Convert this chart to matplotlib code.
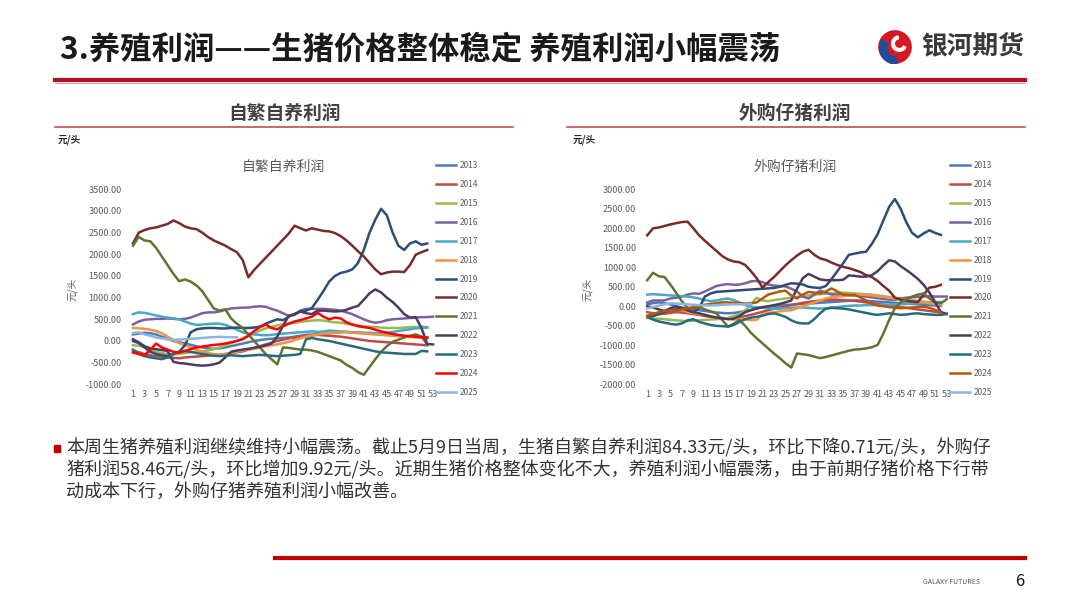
import matplotlib
matplotlib.use('Agg')
import matplotlib.pyplot as plt
from matplotlib.lines import Line2D
from matplotlib.patches import Rectangle, Circle, Wedge
from matplotlib.ticker import FormatStrFormatter

plt.rcParams['font.family'] = ['Noto Sans CJK SC', 'DejaVu Sans']

years = ['2013', '2014', '2015', '2016', '2017', '2018', '2019',
         '2020', '2021', '2022', '2023', '2024', '2025']

# 自繁自养利润 (元/头), by week
self_2013 = [150, 170, 190, 180, 150, 100, 50, 0, -30, -60, -90, -120, -150, -170, -180, -170, -150, -120, -90, -60,
             -30, 0, 20, 40, 50, 60, 70, 80, 100, 120, 140, 150, 160, 170, 180, 190, 200, 210, 200, 190,
             180, 170, 160, 150, 140, 130, 120, 110, 100, 90, 80, 70]
self_2014 = [-220, -260, -300, -330, -350, -360, -380, -390, -400, -380, -370, -360, -350, -340, -330, -320, -300, -280, -260, -240,
             -200, -160, -120, -80, -40, 0, 30, 60, 80, 100, 120, 130, 140, 130, 120, 110, 100, 80, 60, 40,
             20, 0, -10, -20, -30, -40, -50, -60, -70, -80, -90, -100]
self_2015 = [-100, -110, -150, -200, -250, -280, -300, -310, -300, -280, -260, -250, -240, -220, -190, -150, -100, -50, 0, 60,
             120, 180, 240, 290, 320, 360, 380, 400, 420, 440, 460, 470, 480, 470, 450, 430, 420, 400, 380, 360,
             340, 330, 320, 310, 300, 300, 300, 310, 320, 320, 330, 320]
self_2016 = [380, 450, 490, 500, 510, 510, 520, 510, 500, 510, 540, 590, 640, 660, 660, 680, 720, 750, 760, 770,
             770, 790, 800, 790, 740, 700, 640, 580, 600, 700, 740, 740, 740, 740, 730, 720, 700, 660, 620, 560,
             500, 450, 420, 440, 480, 500, 510, 520, 530, 540, 550, 550, 560]
self_2017 = [620, 660, 650, 620, 590, 560, 540, 520, 500, 450, 400, 370, 380, 390, 400, 400, 370, 320, 260, 200,
             170, 150, 140, 130, 140, 160, 170, 180, 190, 200, 210, 220, 210, 220, 240, 230, 220, 210, 200, 200,
             190, 190, 180, 180, 190, 210, 230, 250, 270, 290, 300, 310]
self_2018 = [300, 290, 280, 260, 230, 180, 100, 20, -50, -100, -150, -200, -250, -280, -300, -320, -300, -280, -250, -220,
             -200, -180, -150, -120, -100, -80, -50, -20, 20, 60, 100, 130, 150, 170, 180, 190, 200, 200, 190, 180,
             170, 160, 150, 140, 130, 120, 110, 100, 90, 80, 70, 60]
self_2019 = [0, -50, -150, -250, -300, -330, -350, -300, -250, -100, 200, 270, 290, 300, 300, 290, 290, 300, 310, 300,
             300, 310, 330, 400, 450, 500, 480, 560, 620, 680, 700, 760, 950, 1150, 1370, 1500, 1570, 1600, 1650, 1800,
             2100, 2500, 2800, 3050, 2900, 2500, 2200, 2100, 2250, 2300, 2220, 2250]
self_2020 = [2250, 2500, 2560, 2600, 2620, 2660, 2700, 2780, 2720, 2640, 2600, 2580, 2500, 2400, 2320, 2260, 2200, 2120, 2050, 1870,
             1470, 1640, 1780, 1920, 2060, 2200, 2340, 2480, 2660, 2600, 2550, 2600, 2570, 2540, 2530, 2490, 2420, 2320, 2200, 2070,
             1950, 1800, 1650, 1540, 1580, 1600, 1600, 1590, 1750, 1990, 2050, 2100]
self_2021 = [2200, 2400, 2320, 2300, 2150, 1950, 1750, 1550, 1380, 1420, 1370, 1280, 1150, 950, 750, 700, 730, 520, 400, 300,
             150, 0, -150, -300, -420, -540, -150, -160, -180, -200, -200, -220, -250, -300, -350, -400, -450, -550, -620, -720,
             -780, -600, -420, -250, -120, -20, 30, 80, 120, 150, 100, -80]
self_2022 = [40, -30, -120, -170, -190, -210, -230, -480, -510, -520, -540, -560, -570, -560, -540, -500, -380, -250, -220, -200,
             -180, -160, -130, -100, -60, 100, 350, 580, 620, 680, 640, 620, 700, 700, 690, 680, 690, 720, 770, 810,
             950, 1100, 1190, 1120, 1000, 900, 770, 620, 540, 550, 300, -70, -80]
self_2023 = [-200, -300, -350, -380, -400, -420, -380, -300, -250, -230, -250, -280, -300, -320, -340, -350, -340, -330, -340, -350,
             -340, -330, -320, -330, -340, -350, -340, -330, -320, -300, 40, 70, 40, 20, 0, -30, -60, -90, -120, -150,
             -180, -210, -240, -260, -270, -280, -290, -300, -300, -300, -230, -240]
self_2024 = [-270, -300, -330, -200, -60, -150, -200, -250, -270, -230, -190, -150, -130, -110, -90, -80, -60, -30, 0, 40,
             120, 230, 320, 380, 300, 270, 340, 400, 450, 480, 520, 560, 650, 560, 500, 540, 520, 430, 380, 340,
             320, 300, 260, 220, 190, 160, 140, 120, 110, 100, 90, 80]
self_2025 = [180, 200, 150, 120, 80, 60, 40, 30, 30, 40, 50, 60, 70, 80, 90, 95, 90, 85, 84.33]

# 外购仔猪利润 (元/头), by week
buy_2013 = [50, 80, 100, 80, 50, 0, -30, -60, -80, -100, -120, -140, -160, -170, -180, -170, -150, -120, -90, -60,
            -30, -10, 10, 20, 30, 40, 50, 60, 70, 80, 90, 100, 110, 120, 130, 140, 150, 150, 140, 130,
            120, 110, 100, 90, 80, 70, 60, 50, 40, 30, 20, 10]
buy_2014 = [-150, -180, -200, -190, -170, -150, -160, -180, -200, -220, -250, -270, -290, -300, -310, -300, -280, -250, -220, -180,
            -140, -100, -60, -30, 0, 30, 60, 90, 110, 130, 150, 160, 170, 170, 160, 150, 140, 120, 100, 80,
            60, 40, 20, 0, -20, -40, -60, -80, -100, -120, -140, -160]
buy_2015 = [-300, -310, -320, -330, -350, -360, -370, -380, -370, -360, -350, -340, -330, -320, -300, -250, -200, -100, 50, 220,
            150, 130, 160, 180, 200, 220, 240, 260, 280, 300, 310, 320, 330, 340, 350, 340, 330, 320, 310, 300,
            280, 260, 240, 220, 200, 180, 160, 140, 120, 100, 80, 60]
buy_2016 = [100, 150, 150, 150, 200, 220, 250, 300, 330, 320, 380, 450, 520, 550, 570, 550, 560, 590, 640, 650,
            620, 560, 530, 520, 510, 450, 380, 250, 200, 300, 400, 350, 300, 300, 290, 280, 280, 270, 250, 230,
            210, 190, 170, 170, 200, 220, 230, 240, 250, 260, 250, 250, 250]
buy_2017 = [300, 310, 300, 290, 280, 270, 260, 250, 230, 200, 160, 130, 150, 180, 200, 160, 100, 30, -10, -30,
            -40, -50, -60, -60, -50, -40, -30, -30, -40, -50, -60, -50, -30, -20, 0, 10, 20, 20, 30, 30,
            30, 40, 40, 50, 50, 60, 70, 80, 90, 100, 110, 110]
buy_2018 = [-250, -230, -200, -150, -100, -80, -100, -150, -180, -200, -220, -250, -280, -300, -320, -340, -320, -340, -350, -350,
            -200, -170, -150, -130, -110, -100, -50, 0, 50, 100, 150, 200, 230, 250, 260, 280, 300, 300, 290, 280,
            260, 240, 220, 200, 180, 160, 140, 120, 100, 80, 60, 40]
buy_2019 = [-250, -250, -200, -150, -100, -80, -50, -100, -150, -50, 250, 330, 370, 380, 390, 400, 410, 420, 430, 440,
            450, 460, 470, 500, 550, 590, 580, 560, 500, 480, 470, 520, 700, 900, 1100, 1320, 1350, 1380, 1400, 1600,
            1850, 2200, 2550, 2750, 2500, 2150, 1880, 1770, 1870, 1950, 1880, 1830]
buy_2020 = [1820, 2000, 2020, 2060, 2100, 2130, 2160, 2170, 2000, 1820, 1680, 1550, 1420, 1290, 1200, 1150, 1130, 1060, 900, 720,
            480, 620, 750, 900, 1050, 1180, 1300, 1400, 1450, 1320, 1230, 1190, 1120, 1060, 1010, 980, 930, 880, 800, 750,
            650, 520, 400, 220, 170, 140, 120, 110, 300, 480, 500, 550]
buy_2021 = [670, 860, 770, 750, 560, 350, 130, -40, -60, -20, -80, -130, -180, -350, -520, -450, -350, -500, -680, -820,
            -950, -1080, -1210, -1330, -1460, -1570, -1210, -1230, -1250, -1290, -1330, -1300, -1260, -1220, -1180, -1140, -1110, -1100, -1080, -1050,
            -990, -700, -350, -50, 100, 180, 250, 300, 330, 200, 100, 80, 180]
buy_2022 = [0, -30, -80, -120, -50, 0, -50, -100, -150, -180, -220, -260, -290, -310, -330, -320, -250, -150, -100, -50,
            -20, 0, 30, 60, 100, 150, 450, 720, 830, 760, 690, 670, 670, 670, 680, 790, 780, 760, 760, 800,
            900, 1050, 1180, 1150, 1030, 930, 820, 700, 550, 350, 100, -150, -190]
buy_2023 = [-270, -340, -390, -420, -450, -470, -440, -360, -330, -400, -440, -480, -500, -510, -520, -480, -400, -330, -290, -270,
            -240, -200, -180, -220, -270, -360, -420, -440, -440, -330, -180, -60, -40, -50, -60, -80, -110, -140, -170, -200,
            -220, -200, -180, -200, -220, -210, -190, -180, -200, -210, -220, -220, -200]
buy_2024 = [-250, -200, -150, -120, -100, -120, -80, -50, -20, 10, 40, 60, 80, 100, 100, 90, 80, 70, 80, 100,
            200, 300, 340, 380, 400, 280, 200, 300, 370, 350, 330, 380, 460, 380, 300, 290, 290, 230, 150, 60,
            20, 0, -20, -40, -50, -40, -30, -20, -10, -40, -90, -170]
buy_2025 = [-50, -20, 20, 50, 80, 70, 60, 50, 40, 30, 20, 20, 30, 40, 45, 50, 50, 48, 58.46]

self_series = [self_2013, self_2014, self_2015, self_2016, self_2017, self_2018, self_2019,
               self_2020, self_2021, self_2022, self_2023, self_2024, self_2025]
buy_series = [buy_2013, buy_2014, buy_2015, buy_2016, buy_2017, buy_2018, buy_2019,
              buy_2020, buy_2021, buy_2022, buy_2023, buy_2024, buy_2025]

base_colors = ['#4A7EBB', '#BE4B48', '#98B954', '#7D60A0', '#46AAC5', '#F69240', '#2C4D75',
               '#772C2A', '#5F7530', '#4D3B62', '#276A7C', '#FF0000', '#8EB4E3']
colors_left = base_colors
colors_right = base_colors[:11] + ['#B65708', '#8EB4E3']

W, H = 1080, 608
fig = plt.figure(figsize=(W / 100, H / 100), dpi=100)


def fx(x):
    return x / W


def fy(y):
    return 1 - y / H


gray = '#595959'


def draw_chart(rect, series, colors, ymin, ymax, title, title_x, legend_x, ylabel_x):
    ax = fig.add_axes(rect)
    for yr, vals, c in zip(years, series, colors):
        weeks = list(range(1, len(vals) + 1))
        ax.plot(weeks, vals, color=c, lw=1.8, label=yr, solid_joinstyle='round')
    ax.set_xlim(0.5, 53.5)
    ax.set_ylim(ymin, ymax)
    ax.set_xticks(range(1, 54, 2))
    ax.set_yticks(range(ymin, ymax + 1, 500))
    ax.yaxis.set_major_formatter(FormatStrFormatter('%.2f'))
    ax.tick_params(length=0, labelsize=6.5, labelcolor=gray, pad=4)
    ax.tick_params(axis='y', pad=6)
    for s in ax.spines.values():
        s.set_visible(False)
    leg = ax.legend(loc='upper left', bbox_to_anchor=(fx(legend_x), fy(161)),
                    bbox_transform=fig.transFigure, frameon=False, fontsize=6,
                    handlelength=2.4, handletextpad=0.4, labelspacing=1.19,
                    borderpad=0, borderaxespad=0)
    for t in leg.get_texts():
        t.set_color(gray)
    fig.text(fx(title_x), fy(167), title, fontsize=10, color=gray, ha='center', va='center')
    fig.text(fx(ylabel_x), fy(289), '元/头', fontsize=7, color=gray, rotation=90,
             ha='center', va='center')
    return ax


draw_chart([fx(130.1), fy(384.3), 305.8 / W, 195 / H], self_series, colors_left,
           -1000, 3500, '自繁自养利润', 283, 436, 72)
draw_chart([fx(644.4), fy(384.3), 305.2 / W, 195 / H], buy_series, colors_right,
           -2000, 3000, '外购仔猪利润', 795, 950, 587)

# header
fig.text(fx(60), fy(50), '3.养殖利润——生猪价格整体稳定 养殖利润小幅震荡', fontsize=22.6,
         fontweight='bold', color='#1A1A1A', ha='left', va='center')
fig.add_artist(Line2D([fx(55), fx(1025)], [fy(80), fy(80)], color='#B01020', lw=3))
fig.add_artist(Line2D([fx(55), fx(1025)], [fy(82.5), fy(82.5)], color='#D9A0A0', lw=0.8))
fig.text(fx(921), fy(46), '银河期货', fontsize=18.5, fontweight='bold', color='#3A3A3A',
         ha='left', va='center')

# logo
lax = fig.add_axes([fx(878), fy(64), 34 / W, 34 / H])
lax.set_xlim(-1, 1)
lax.set_ylim(-1, 1)
lax.set_aspect('equal')
lax.axis('off')
lax.add_patch(Circle((0, 0), 0.95, color='#D7191F'))
lax.add_patch(Wedge((0.05, -0.05), 0.95, 150, 275, width=0.42, color='#1F4E9A'))
lax.add_patch(Wedge((0.25, 0.2), 0.45, 100, 330, width=0.16, color='white'))

# sub headings
fig.text(fx(285), fy(113), '自繁自养利润', fontsize=13.5, fontweight='bold', color='#404040',
         ha='center', va='center')
fig.text(fx(795), fy(113), '外购仔猪利润', fontsize=13.5, fontweight='bold', color='#404040',
         ha='center', va='center')
fig.add_artist(Line2D([fx(55), fx(513)], [fy(127), fy(127)], color='#C0504D', lw=1.2))
fig.add_artist(Line2D([fx(567), fx(1025)], [fy(127), fy(127)], color='#C0504D', lw=1.2))
fig.text(fx(58), fy(140), '元/头', fontsize=7, fontweight='bold', color='#262626',
         ha='left', va='center')
fig.text(fx(573), fy(140), '元/头', fontsize=7, fontweight='bold', color='#262626',
         ha='left', va='center')

# comment text
fig.add_artist(Rectangle((fx(54), fy(452)), 6 / W, 7 / H, color='#C00000'))
lines = ['本周生猪养殖利润继续维持小幅震荡。截止5月9日当周，生猪自繁自养利润84.33元/头，环比下降0.71元/头，外购仔',
         '猪利润58.46元/头，环比增加9.92元/头。近期生猪价格整体变化不大，养殖利润小幅震荡，由于前期仔猪价格下行带',
         '动成本下行，外购仔猪养殖利润小幅改善。']
for i, s in enumerate(lines):
    fig.text(fx(66), fy(448 + 22 * i), s, fontsize=13, color='#333333', ha='left', va='center')

# footer
fig.add_artist(Line2D([fx(275), fx(1025)], [fy(558), fy(558)], color='#C00000', lw=3))
fig.text(fx(952), fy(582), 'GALAXY FUTURES', fontsize=5, color=gray, ha='center', va='center')
fig.text(fx(1020), fy(581), '6', fontsize=12, color='#1A1A1A', ha='center', va='center')

fig.savefig('out.png', dpi=100, facecolor='white')
